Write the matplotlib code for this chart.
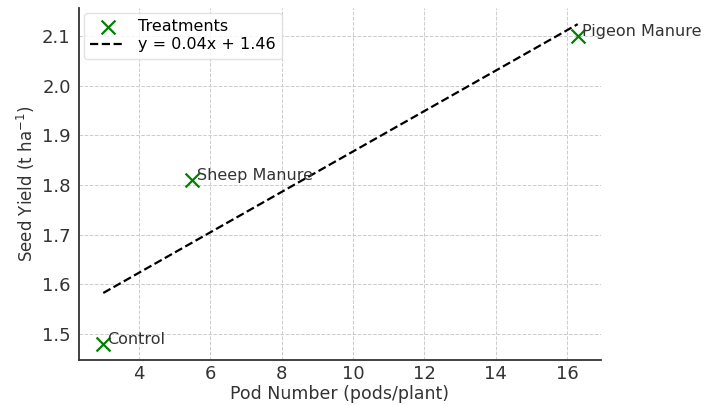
import matplotlib.pyplot as plt
import numpy as np

treatments = ["Control", "Sheep Manure", "Pigeon Manure"]
pod_number = [3.0, 5.5, 16.3]
seed_yield = [1.48, 1.81, 2.10]

slope, intercept = np.polyfit(pod_number, seed_yield, 1)
xfit = np.array([min(pod_number), max(pod_number)])

fig, ax = plt.subplots(figsize=(7.12, 4.05), dpi=100)
ax.scatter(pod_number, seed_yield, marker="x", color="green", s=100, linewidths=1.6,
           label="Treatments", zorder=3)
ax.plot(xfit, slope * xfit + intercept, "k--", lw=1.6,
        label=f"y = {slope:.2f}x + {intercept:.2f}")
for name, x, y in zip(treatments, pod_number, seed_yield):
    ax.text(x + 0.12, y + 0.008, name, fontsize=11.5, color="#333333", va="center")

ax.set_xlim(2.32, 16.95)
ax.set_ylim(1.448, 2.156)
ax.set_xticks([4, 6, 8, 10, 12, 14, 16])
ax.set_yticks([1.5, 1.6, 1.7, 1.8, 1.9, 2.0, 2.1])
ax.set_xlabel("Pod Number (pods/plant)", fontsize=12.5, color="#333333", labelpad=1)
ax.set_ylabel("Seed Yield (t ha$^{-1}$)", fontsize=12, color="#333333")
ax.tick_params(axis="x", pad=4)
ax.tick_params(labelsize=13, labelcolor="#333333", length=0)
ax.tick_params(axis="y", pad=6)
ax.grid(True, linestyle="--", color="#cccccc", linewidth=0.7)
for s in ["top", "right"]:
    ax.spines[s].set_visible(False)
for s in ["left", "bottom"]:
    ax.spines[s].set_color("#333333")
    ax.spines[s].set_linewidth(1.3)
ax.legend(loc="upper left", fontsize=11.5, frameon=True, edgecolor="#dddddd",
          labelspacing=0.2, borderaxespad=0.3, handlelength=2.2)

fig.subplots_adjust(left=0.111, right=0.844, top=0.98, bottom=0.112)
fig.savefig("out.png")
